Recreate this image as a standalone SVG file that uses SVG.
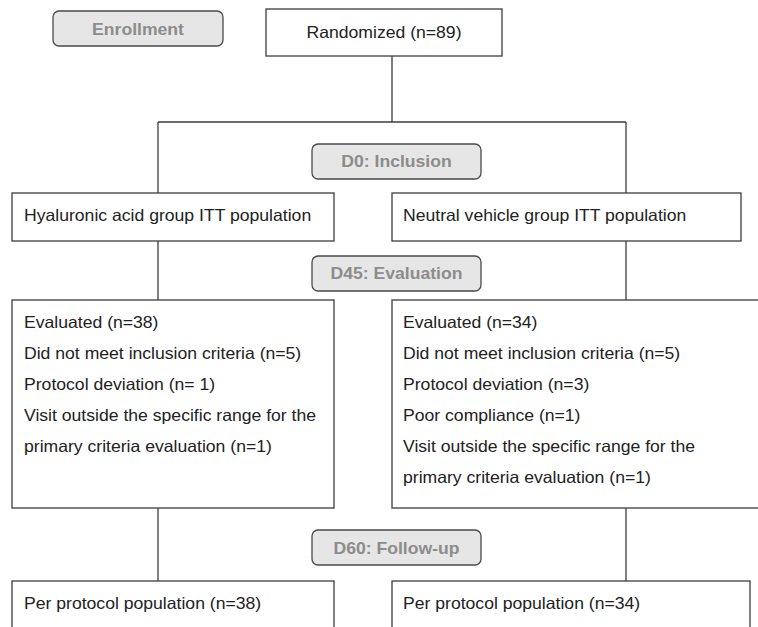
<svg xmlns="http://www.w3.org/2000/svg" width="758" height="627" viewBox="0 0 758 627">
<style>
.box{fill:#fff;stroke:#3c3c3c;stroke-width:1.3}
.tag{fill:#e6e6e6;stroke:#4a4a4a;stroke-width:1.3}
.conn{fill:none;stroke:#3c3c3c;stroke-width:1.3}
text{font-family:"Liberation Sans",Arial,Helvetica,sans-serif;font-size:16.3px}
.t{fill:#222}
.g{fill:#8c8c8c;font-weight:bold;text-anchor:middle;font-size:16px}
.c{text-anchor:middle}
</style>
<rect width="758" height="627" fill="#fff"/>
<g id="connectors">
<path class="conn" d="M392,56V122M158,122H626M158,122V193M626,122V193M158,241V300M626,241V300M158,508V581M626,508V581"/>
</g>
<g id="enrollment">
<rect class="tag" x="53" y="11" width="170" height="35" rx="6"/>
<text class="g" transform="translate(138,35) scale(1.1,1)">Enrollment</text>
</g>
<g id="randomized">
<rect class="box" x="266" y="9" width="236" height="47"/>
<text class="t c" transform="translate(384,38) scale(1.08,1)">Randomized (n=89)</text>
</g>
<g id="d0">
<rect class="tag" x="312" y="144" width="169" height="35" rx="6"/>
<text class="g" transform="translate(396.5,167) scale(1.1,1)">D0: Inclusion</text>
</g>
<g id="itt-ha">
<rect class="box" x="12" y="193" width="322" height="48"/>
<text class="t" transform="translate(24,221) scale(1.08,1)">Hyaluronic acid group ITT population</text>
</g>
<g id="itt-nv">
<rect class="box" x="392" y="193" width="349" height="48"/>
<text class="t" transform="translate(403,221) scale(1.08,1)">Neutral vehicle group ITT population</text>
</g>
<g id="d45">
<rect class="tag" x="312" y="256" width="169" height="35" rx="6"/>
<text class="g" transform="translate(396.5,279) scale(1.1,1)">D45: Evaluation</text>
</g>
<g id="eval-ha">
<rect class="box" x="12" y="300" width="322" height="208"/>
<text class="t" transform="translate(24,328) scale(1.08,1)">Evaluated (n=38)</text>
<text class="t" transform="translate(24,359) scale(1.08,1)">Did not meet inclusion criteria (n=5)</text>
<text class="t" transform="translate(24,390) scale(1.08,1)">Protocol deviation (n= 1)</text>
<text class="t" transform="translate(24,421) scale(1.08,1)">Visit outside the specific range for the</text>
<text class="t" transform="translate(24,452) scale(1.08,1)">primary criteria evaluation (n=1)</text>
</g>
<g id="eval-nv">
<rect class="box" x="392" y="300" width="370" height="208"/>
<text class="t" transform="translate(403,328) scale(1.08,1)">Evaluated (n=34)</text>
<text class="t" transform="translate(403,359) scale(1.08,1)">Did not meet inclusion criteria (n=5)</text>
<text class="t" transform="translate(403,390) scale(1.08,1)">Protocol deviation (n=3)</text>
<text class="t" transform="translate(403,421) scale(1.08,1)">Poor compliance (n=1)</text>
<text class="t" transform="translate(403,452) scale(1.08,1)">Visit outside the specific range for the</text>
<text class="t" transform="translate(403,483) scale(1.08,1)">primary criteria evaluation (n=1)</text>
</g>
<g id="d60">
<rect class="tag" x="312" y="530" width="169" height="35" rx="6"/>
<text class="g" transform="translate(396.5,554) scale(1.1,1)">D60: Follow-up</text>
</g>
<g id="pp-ha">
<rect class="box" x="12" y="581" width="322" height="60"/>
<text class="t" transform="translate(24,609) scale(1.08,1)">Per protocol population (n=38)</text>
</g>
<g id="pp-nv">
<rect class="box" x="392" y="581" width="358" height="60"/>
<text class="t" transform="translate(403,609) scale(1.08,1)">Per protocol population (n=34)</text>
</g>
</svg>
